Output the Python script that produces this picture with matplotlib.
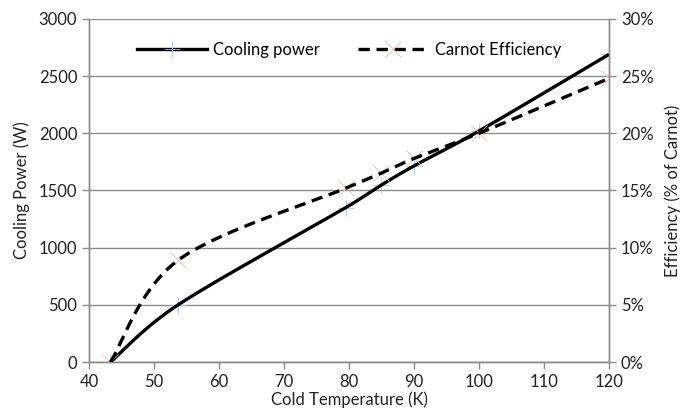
import numpy as np
import matplotlib
matplotlib.use("Agg")
import matplotlib.pyplot as plt
from matplotlib.lines import Line2D
from matplotlib.ticker import FuncFormatter

# ---------------------------------------------------------------------
# Data
# ---------------------------------------------------------------------
cold_temp = [43.3, 53.7, 79.5, 84.9, 90.0, 100.0, 120.0]
cooling_power = [0, 500, 1350, 1545, 1715, 2020, 2690]
carnot_eff = [0.0, 0.089, 0.152, 0.165, 0.178, 0.200, 0.248]

x_ticks = list(range(40, 121, 10))
power_ticks = list(range(0, 3001, 500))
eff_ticks = [0, 0.05, 0.10, 0.15, 0.20, 0.25, 0.30]

GRID = "#8c8c8c"
TXT = "#222222"
FS = 12.0


def smooth(xs, ys, xspan, yspan, n=40):
    """Excel style smoothed line (Catmull-Rom bezier in screen space)."""
    px = np.asarray(xs, float) / xspan
    py = np.asarray(ys, float) / yspan
    pts = np.column_stack([px, py])
    pts = np.vstack([pts[0], pts, pts[-1]])
    out = []
    t = np.linspace(0, 1, n)[:, None]
    for i in range(1, len(pts) - 2):
        p0, p1, p2, p3 = pts[i - 1], pts[i], pts[i + 1], pts[i + 2]
        seg_len = np.linalg.norm(p2 - p1)
        # keep control points inside the segment so short segments stay smooth
        t1 = (p2 - p0) / 6
        t2 = (p3 - p1) / 6
        t1 *= min(1.0, 0.45 * seg_len / max(np.linalg.norm(t1), 1e-9))
        t2 *= min(1.0, 0.45 * seg_len / max(np.linalg.norm(t2), 1e-9))
        c1 = p1 + t1
        c2 = p2 - t2
        seg = ((1 - t) ** 3) * p1 + 3 * ((1 - t) ** 2) * t * c1 \
            + 3 * (1 - t) * t ** 2 * c2 + t ** 3 * p2
        out.append(seg if i == 1 else seg[1:])
    out = np.vstack(out)
    return out[:, 0] * xspan, out[:, 1] * yspan


plt.rcParams["font.family"] = ["Lato", "DejaVu Sans"]
plt.rcParams["font.size"] = FS

fig = plt.figure(figsize=(6.82, 4.20), dpi=100)
ax = fig.add_axes([0.1305, 0.138, 0.7625, 0.817])
ax2 = ax.twinx()

ax.set_xlim(40, 120)
ax.set_ylim(0, 3000)
ax2.set_ylim(0, 0.30)

# grid
ax.set_yticks(power_ticks)
ax.grid(axis="y", color=GRID, lw=1.0)
ax.set_axisbelow(True)

# markers (faint, under the lines)
ax.plot(cold_temp, cooling_power, ls="none", marker="+", ms=12, mew=0.6,
        color="#a9c1e6", zorder=2)
ax2.plot(cold_temp, carnot_eff, ls="none", marker="x", ms=12, mew=0.6,
         color="#f0b4b4", zorder=2)

sx, sy = smooth(cold_temp, cooling_power, 80, 3000)
ax.plot(sx, sy, color="black", lw=2.4, solid_capstyle="butt", zorder=3)
ex, ey = smooth(cold_temp, carnot_eff, 80, 0.30)
ax2.plot(ex, ey, color="black", lw=2.4, dashes=(3.4, 2.0), zorder=3)

# axes styling
for a in (ax, ax2):
    a.spines["top"].set_visible(False)
    for s in ("left", "right", "bottom"):
        a.spines[s].set_color(GRID)
        a.spines[s].set_linewidth(1.0)
    a.tick_params(colors=GRID, labelcolor=TXT, length=5, width=1.0,
                  labelsize=FS)

ax.set_xticks(x_ticks)
ax2.set_yticks(eff_ticks)
ax2.yaxis.set_major_formatter(FuncFormatter(lambda v, p: f"{v * 100:.0f}%"))

ax.set_xlabel("Cold Temperature (K)", color=TXT, labelpad=1)
ax.set_ylabel("Cooling Power (W)", color=TXT, labelpad=6)
ax2.set_ylabel("Efficiency (% of Carnot)", color=TXT, labelpad=8)

handles = [
    Line2D([], [], color="black", lw=2.4, marker="+", ms=12, mew=0.6,
           mec="#a9c1e6"),
    Line2D([], [], color="black", lw=2.4, dashes=(3.4, 2.0), marker="x",
           ms=12, mew=0.6, mec="#f0b4b4"),
]
ax.legend(handles, ["Cooling power", "Carnot Efficiency"], ncol=2,
          frameon=False, loc="center", bbox_to_anchor=(0.50, 0.91),
          handlelength=4.2, columnspacing=2.3, handletextpad=0.4,
          fontsize=FS)

fig.savefig("out.png", dpi=100)
